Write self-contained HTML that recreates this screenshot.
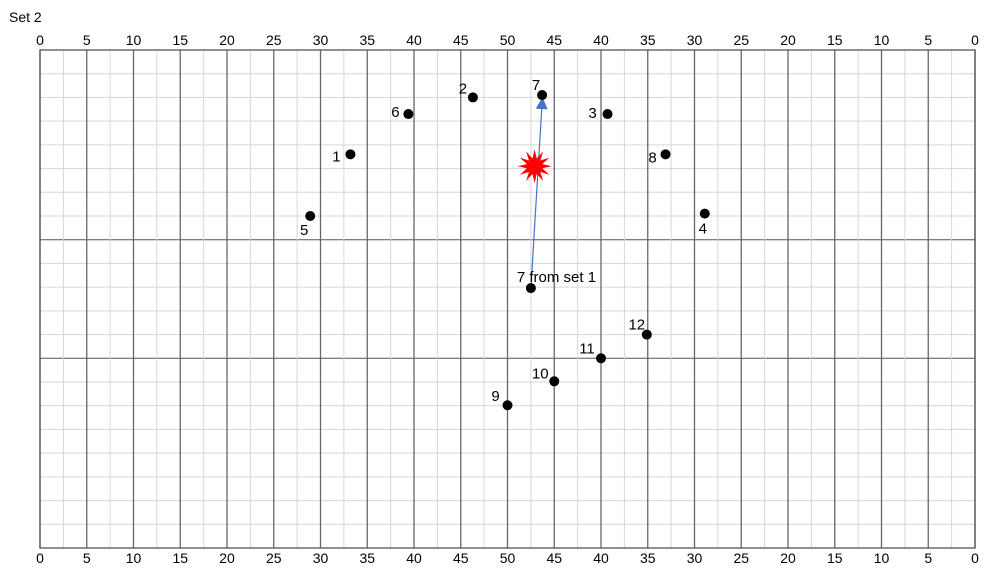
<!DOCTYPE html>
<html><head><meta charset="utf-8"><style>
html,body{margin:0;padding:0;background:#fff;}
svg{display:block;}
</style></head><body>
<svg id="chart" width="994" height="574" xmlns="http://www.w3.org/2000/svg">
<text x="9" y="22" font-family="'Liberation Sans', sans-serif" font-size="14" fill="#000">Set 2</text>
<g id="grid"></g>
<g id="ticks"></g>
<g id="marks"></g>
</svg>
<script>
const tickLabels = ["0","5","10","15","20","25","30","35","40","45","50","45","40","35","30","25","20","15","10","5","0"];
const pointLabels = ["1","2","3","4","5","6","7","8","9","10","11","12"];
const pointX = [33.2, 46.3, 60.7, 71.1, 28.9, 39.4, 53.7, 66.9, 50.0, 55.0, 60.0, 64.9];
const pointY = [4.4, 2.0, 2.7, 6.9, 7.0, 2.7, 1.9, 4.4, 14.98, 13.97, 13.0, 12.0];
const labelDX = [-14, -10, -15, -2, -6, -13, -6, -13, -12, -14, -14, -10];
const labelDY = [7, -4, 4, 20, 19, 3, -5, 8, -4, -3, -5, -5];
const prevX = [52.5];
const prevY = [10.04];
const starX = [52.9];
const starY = [4.9];

const NS = "http://www.w3.org/2000/svg";
const L = 40, R = 975, T = 50, B = 548, ROWS = 21;
const xs = u => L + (R - L) * u / 100;
const ys = r => T + (B - T) * r / ROWS;
function mk(tag, attrs, parent) {
  const e = document.createElementNS(NS, tag);
  for (const k in attrs) e.setAttribute(k, attrs[k]);
  parent.appendChild(e);
  return e;
}
const grid = document.getElementById('grid');
for (let r = 0; r <= ROWS; r++) {
  const dark = (r === 8 || r === 13);
  const l = mk('line', {x1: L, x2: R, y1: ys(r), y2: ys(r), stroke: dark ? '#555' : '#d6d6d6', 'stroke-width': 1}, grid);
  
  
}
for (let i = 0; i <= 40; i++) {
  const u = i * 2.5;
  const major = i % 2 === 0;
  const l = mk('line', {x1: xs(u), x2: xs(u), y1: T, y2: B, stroke: major ? '#666' : '#d6d6d6', 'stroke-width': major ? 1.3 : 1}, grid);
  
  
}
const border = mk('rect', {x: L, y: T, width: R - L, height: B - T, fill: 'none', stroke: '#555', 'stroke-width': 1.3}, grid);



const ticks = document.getElementById('ticks');
tickLabels.forEach((t, i) => {
  [45, 563].forEach((y, k) => {
    const tx = mk('text', {x: xs(i * 5), y: y, 'text-anchor': 'middle', 'font-family': "'Liberation Sans', sans-serif", 'font-size': 14, fill: '#000'}, ticks);
    tx.textContent = t;
    
    
  });
});

const marks = document.getElementById('marks');
const defs = mk('defs', {}, marks);
const m = mk('marker', {id: 'ah', markerWidth: 12, markerHeight: 12, refX: 6, refY: 6, orient: 'auto', markerUnits: 'userSpaceOnUse'}, defs);
mk('path', {d: 'M0,0 L12,6 L0,12 Z', fill: '#4472c4'}, m);
const ax = xs(prevX[0]), ay = ys(prevY[0]), bx = xs(pointX[6]), by = ys(pointY[6]) + 8;
const arrow = mk('line', {x1: ax, y1: ay, x2: bx, y2: by, stroke: '#4472c4', 'stroke-width': 1.2, 'marker-end': 'url(#ah)'}, marks);


const cx = xs(starX[0]), cy = ys(starY[0]);
let pts = [];
for (let i = 0; i < 24; i++) {
  const a = i * Math.PI / 12;
  const rr = i % 2 ? 8 : 17;
  pts.push((cx + rr * Math.cos(a)).toFixed(1) + ',' + (cy + rr * Math.sin(a)).toFixed(1));
}
const star = mk('polygon', {points: pts.join(' '), fill: '#ff0000'}, marks);


pointX.forEach((u, i) => {
  const c = mk('circle', {cx: xs(u), cy: ys(pointY[i]), r: 5, fill: '#000'}, marks);
  
  
  const t = mk('text', {x: xs(u) + labelDX[i], y: ys(pointY[i]) + labelDY[i], 'text-anchor': 'middle', 'font-family': "'Liberation Sans', sans-serif", 'font-size': 15, fill: '#000'}, marks);
  t.textContent = pointLabels[i];
  
  
});
const pc = mk('circle', {cx: ax, cy: ay, r: 5, fill: '#000'}, marks);


const pt = mk('text', {x: ax - 14, y: ay - 6, 'font-family': "'Liberation Sans', sans-serif", 'font-size': 15, fill: '#000'}, marks);
pt.textContent = '7 from set 1';


</script>
</body></html>
